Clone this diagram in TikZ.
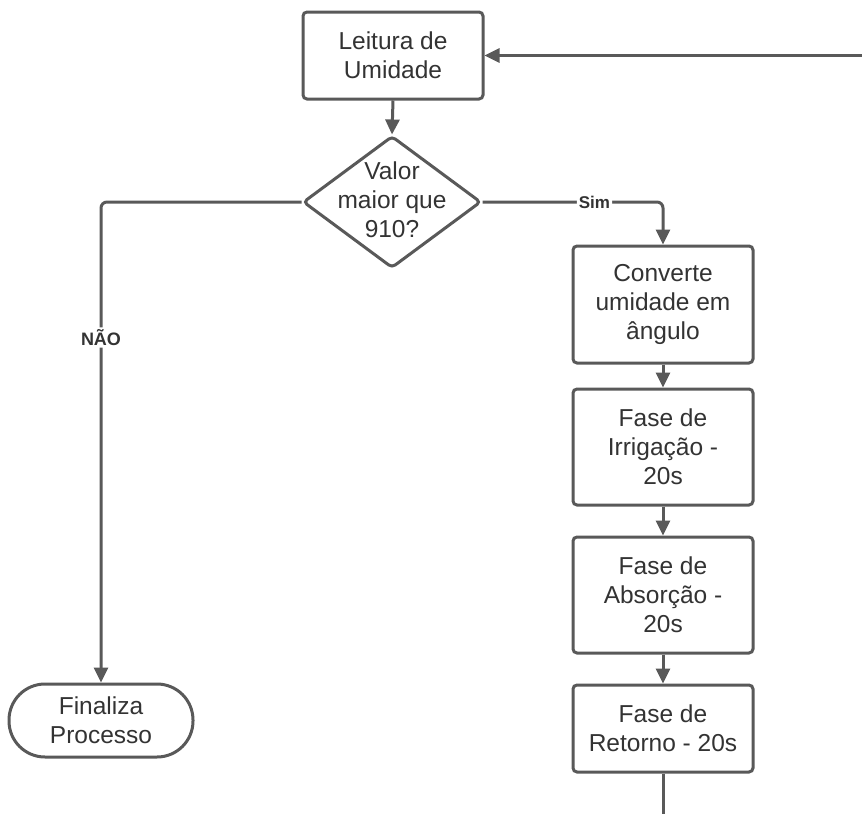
\documentclass[tikz,border=0pt]{standalone}
\usepackage{fontspec}
\setmainfont{Liberation Sans}
\usetikzlibrary{arrows.meta,shapes.geometric}
\definecolor{lineg}{HTML}{595959}
\definecolor{txtg}{HTML}{333333}
\tikzset{
  every picture/.style={x=1pt,y=-1pt},
  boxnode/.style={draw=lineg, line width=3pt, rounded corners=4pt, fill=white,
    minimum width=180pt, inner sep=0pt, align=center, text=txtg,
    font=\fontsize{24.5}{29}\selectfont},
  decnode/.style={draw=lineg, line width=3pt, rounded corners=4pt, diamond,
    minimum width=178pt, minimum height=132pt, inner sep=0pt},
  txtnode/.style={align=center, text=txtg, inner sep=0pt, font=\fontsize{24.5}{29}\selectfont},
  termnode/.style={draw=lineg, line width=3pt, rounded corners=36pt,
    minimum width=184pt, minimum height=73pt, inner sep=0pt, align=center, text=txtg,
    font=\fontsize{24.5}{29}\selectfont},
  conn/.style={draw=lineg, line width=3pt, -{Triangle[width=14pt,length=15pt]}},
  plainconn/.style={draw=lineg, line width=3pt},
  lbl/.style={fill=white, text=txtg, inner sep=2pt, font=\fontsize{17}{19}\selectfont\bfseries}
}
\begin{document}
\begin{tikzpicture}
\useasboundingbox (0,0) rectangle (862,814);
\node[boxnode, minimum height=87pt] (lei) at (393,55.5) {Leitura de\\Umidade};
\node[decnode] (dia) at (392,202) {};
\node[txtnode] (diat) at (392,200) {Valor\\maior que\\910?};
\node[boxnode, minimum height=117pt] (conv) at (663,304.5) {Converte\\umidade em\\ângulo};
\node[boxnode, minimum height=116pt] (irr) at (663,447) {Fase de\\Irrigação -\\20s};
\node[boxnode, minimum height=116pt] (abs) at (663,595) {Fase de\\Absorção -\\20s};
\node[boxnode, minimum height=87pt] (ret) at (663,728.5) {Fase de\\Retorno - 20s};
\node[termnode] (fin) at (101,720.5) {Finaliza\\Processo};
\coordinate (inR) at (862,55.5);
\coordinate (outB) at (663,814);

\draw[conn] (lei.south) -- (dia.north);
\draw[conn, rounded corners=6pt] (dia.east) -| node[lbl, pos=0.31] (sim) {Sim} (conv.north);
\draw[conn, rounded corners=6pt] (dia.west) -| node[lbl, pos=0.641, font=\fontsize{18}{20}\selectfont\bfseries] (nao) {NÃO} (fin.north);
\draw[conn] (conv.south) -- (irr.north);
\draw[conn] (irr.south) -- (abs.north);
\draw[conn] (abs.south) -- (ret.north);
\draw[plainconn] (ret.south) -- (outB);
\draw[conn] (inR) -- (lei.east);
\end{tikzpicture}
\end{document}
